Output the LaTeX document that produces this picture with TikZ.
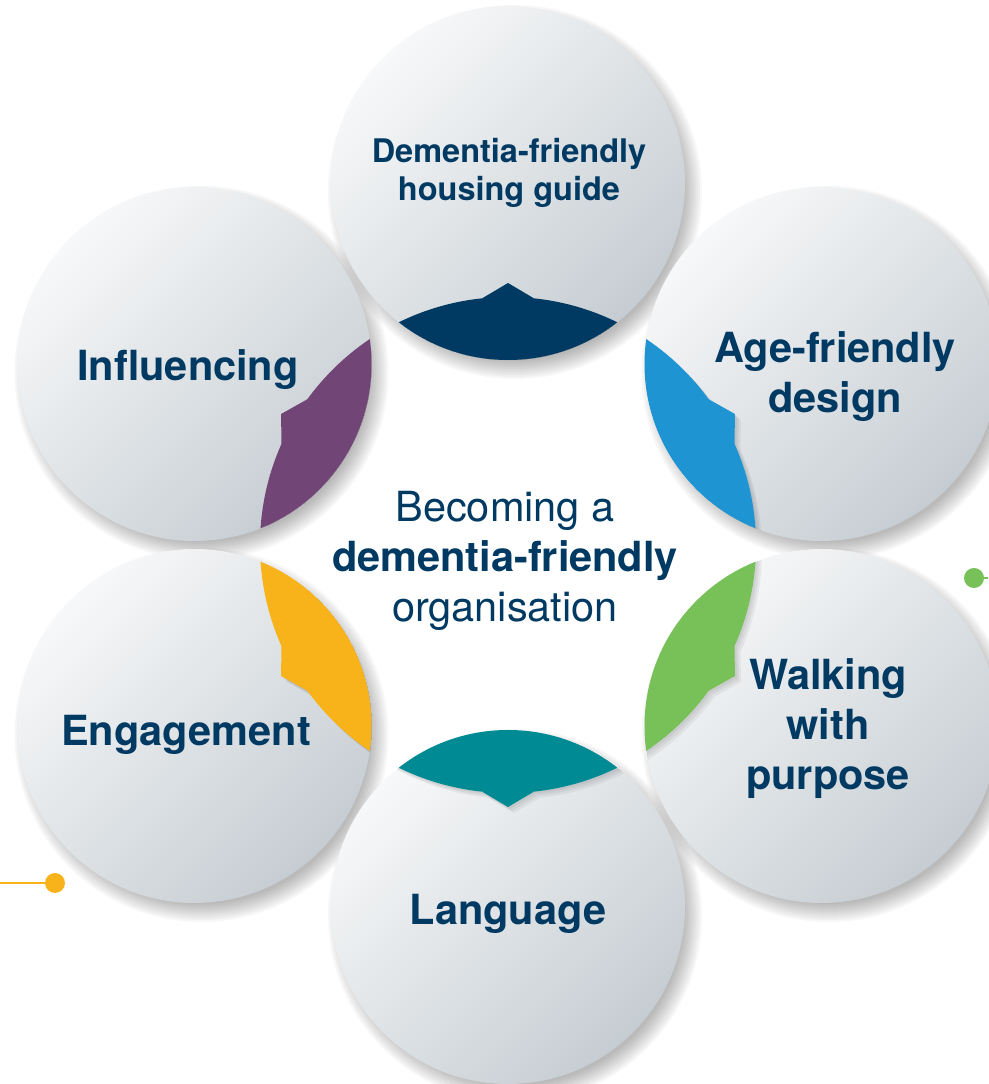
\documentclass[tikz,border=0pt]{standalone}
\usepackage{fontspec}
\setmainfont{TeX Gyre Heros}
\usetikzlibrary{calc}
\definecolor{navy}{HTML}{003A63}
\definecolor{segblue}{HTML}{1E94D2}
\definecolor{seggreen}{HTML}{78C159}
\definecolor{segteal}{HTML}{008A94}
\definecolor{segyellow}{HTML}{F8B31B}
\definecolor{segpurple}{HTML}{724577}
\definecolor{discl}{HTML}{F7F8F9}
\definecolor{discm}{HTML}{ECEEF0}
\definecolor{discd}{HTML}{C6CDD2}
\begin{document}
\begin{tikzpicture}[x=1pt,y=1pt,
  disc/.style={top color=discl, middle color=discm, bottom color=discd, shading angle=45},
  lbl/.style={text=navy, font=\bfseries\fontsize{41.5}{50}\selectfont, align=center, inner sep=0pt},
  dotnode/.style={circle, inner sep=0pt, minimum size=20pt},
]
\useasboundingbox (0,0) rectangle (988,1084);
\coordinate (O) at (508,539);
\def\R{362}\def\r{177}\def\L{248}\def\T{262}
\foreach \n/\a in {ctop/90, ctr/30, cbr/-30, cbot/-90, cbl/-150, ctl/150}
  \coordinate (\n) at ($(O)+(\a:\R)$);
% soft shadows
\foreach \n in {ctop, ctr, cbr, cbot, cbl, ctl}{
  \foreach \k in {0,...,9}
    \fill[black, opacity=0.03] ($(\n)+(7,-9)$) circle ({\r+10-2*\k});
}
% discs
\foreach \n in {ctop, ctr, cbr, cbot, cbl, ctl}
  \shade[disc] (\n) circle (\r);
% coloured segments
\foreach \n/\a/\c in {ctop/90/navy, ctr/30/segblue, cbr/-30/seggreen, cbot/-90/segteal, cbl/-150/segyellow, ctl/150/segpurple}{
  \begin{scope}
    \clip (\n) circle (\r);
    \foreach \s in {2,4,6}{
      \begin{scope}[transparency group, opacity=0.05]
        \fill[black] ($(O)+(\s,-\s)$) circle (\L);
        \fill[black] ($(O)+(\s,-\s)+(\a+6:\L)$) -- ($(O)+(\s,-\s)+(\a:\T)$) -- ($(O)+(\s,-\s)+(\a-6:\L)$) -- cycle;
      \end{scope}
    }
    \fill[\c] (O) circle (\L);
    \fill[\c] ($(O)+(\a+6:\L)$) -- ($(O)+(\a:\T)$) -- ($(O)+(\a-6:\L)$) -- cycle;
  \end{scope}
}
% labels
\node[lbl, font=\bfseries\fontsize{32.5}{38}\selectfont] (ttop) at (509,911) {Dementia-friendly\\housing guide};
\node[lbl] (ttr) at (835,707) {Age-friendly\\design};
\node[lbl] (tbr) at (828,355) {Walking\\with\\purpose};
\node[lbl] (tbot) at (508,170) {Language};
\node[lbl] (tbl) at (186,349) {Engagement};
\node[lbl] (ttl) at (188,714) {Influencing};
\node[text=navy, align=center, inner sep=0pt, font=\fontsize{41.5}{50}\selectfont] (mid) at (505,523)
  {Becoming a\\\textbf{dementia-friendly}\\organisation};
% decorative dots
\node[dotnode, fill=seggreen] (gdot) at (974,506) {};
\coordinate (gend) at (988,506);
\draw[seggreen, line width=2pt] (gdot) -- (gend);
\node[dotnode, fill=segyellow] (ydot) at (55,201) {};
\coordinate (yend) at (0,201);
\draw[segyellow, line width=2.5pt] (ydot) -- (yend);
\end{tikzpicture}
\end{document}
